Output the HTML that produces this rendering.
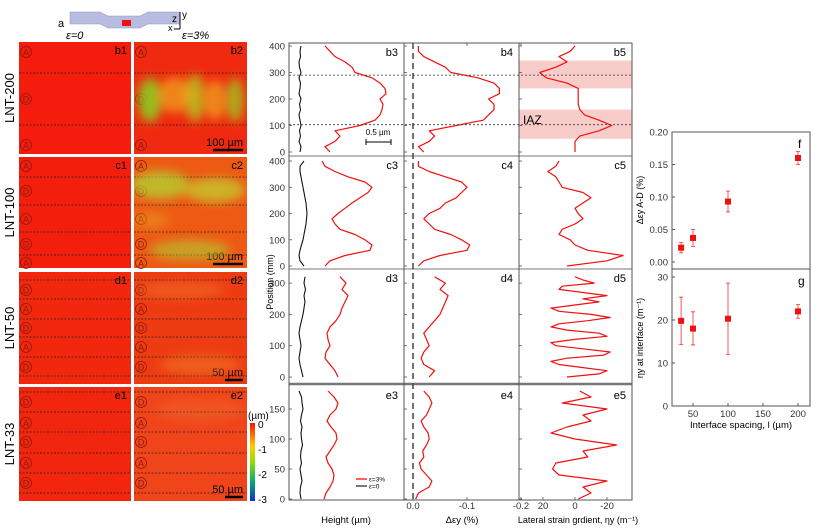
<!DOCTYPE html>
<html><head><meta charset="utf-8"><style>
body{margin:0;background:#fff}
svg{display:block;font-family:"Liberation Sans",sans-serif}
</style></head><body>
<svg id="fig" width="827" height="530" viewBox="0 0 827 530" xmlns="http://www.w3.org/2000/svg">
<defs>
<filter id="blur" x="-50%" y="-50%" width="200%" height="200%"><feGaussianBlur stdDeviation="5"/></filter>
<filter id="blur2"><feGaussianBlur stdDeviation="1.2"/></filter>
<linearGradient id="cbar" x1="0" y1="0" x2="0" y2="1">
<stop offset="0" stop-color="#ff1000"/><stop offset="0.3" stop-color="#ffcc00"/><stop offset="0.5" stop-color="#8ee000"/><stop offset="0.75" stop-color="#00b070"/><stop offset="1" stop-color="#1030d0"/></linearGradient>
<clipPath id="cb2"><rect x="134" y="42" width="113" height="112"/></clipPath>
<clipPath id="cc2"><rect x="134" y="157" width="113" height="111"/></clipPath>
<clipPath id="cd2"><rect x="134" y="272" width="113" height="112"/></clipPath>
<clipPath id="ce2"><rect x="134" y="387" width="113" height="114"/></clipPath>
<clipPath id="cmid"><rect x="289" y="43" width="343" height="457"/></clipPath>
</defs>
<g id="header">
<text x="58" y="27" font-size="11">a</text>
<path d="M70 12 H100 L108 16 H140 L148 12 H180 V24 H148 L140 28 H108 L100 24 H70 Z" fill="#b8bce0" stroke="#9096c0" stroke-width="0.5"/>
<rect x="122" y="20" width="9" height="6" fill="#f01010"/>
<text x="172" y="22" font-size="10">z</text>
<text x="182" y="18" font-size="10">y</text>
<text x="168" y="31" font-size="9">x</text>
<path d="M180 29 V12 M180 29 H174" stroke="#000" stroke-width="1"/>
<text x="66" y="39" font-size="11" font-style="italic">ε=0</text>
<text x="182" y="39" font-size="11" font-style="italic">ε=3%</text>
</g>
<g id="images"></g>
<g id="mid"></g>
<g id="fg"></g>
</svg>
<script>
// ---------- profile data (position in mm) ----------
const posB = [0,20,40,60,80,100,120,140,160,180,200,220,240,260,280,300,320,340,360,380,400];
const b3Red = [0.82,0.72,0.92,1.02,0.92,1.42,1.72,1.82,1.86,1.88,1.82,1.94,1.92,1.82,1.66,1.32,1.26,1.12,0.92,0.82,0.72];
const b3Black = [0.22,0.24,0.2,0.23,0.21,0.24,0.22,0.2,0.23,0.21,0.24,0.2,0.22,0.23,0.2,0.24,0.21,0.2,0.23,0.22,0.24];
const b4Strain = [-0.02,-0.01,-0.03,-0.04,-0.03,-0.08,-0.13,-0.14,-0.15,-0.15,-0.14,-0.16,-0.16,-0.15,-0.12,-0.07,-0.06,-0.04,-0.02,-0.01,-0.01];
const b5Grad = [0,0,0,-3,-15,-23,-15,-6,-3,-2,-2,-2,-2,5,18,22,12,5,10,3,0];
const posC = [0,20,40,60,80,100,120,140,160,180,200,220,240,260,280,300,320,340,360,380,400];
const c3Red = [0.72,0.82,1.12,1.62,1.66,1.52,1.32,1.02,0.92,0.86,0.98,1.12,1.26,1.42,1.58,1.66,1.52,1.18,0.92,0.72,0.66];
const c3Black = [0.3,0.22,0.2,0.22,0.25,0.28,0.3,0.32,0.34,0.35,0.36,0.35,0.34,0.32,0.3,0.28,0.26,0.24,0.22,0.22,0.3];
const c4Strain = [-0.01,-0.02,-0.05,-0.1,-0.105,-0.09,-0.07,-0.04,-0.03,-0.02,-0.03,-0.05,-0.06,-0.08,-0.09,-0.1,-0.09,-0.06,-0.03,-0.01,-0.01];
const c5Grad = [5,-20,-30,-8,0,3,10,8,0,-5,-2,0,-5,-10,-5,8,10,12,17,12,10];
const posD = [0,20,40,60,80,100,120,140,160,180,200,220,240,260,280,300,320];
const d3Red = [0.98,0.92,0.82,0.72,0.74,0.82,0.78,0.76,0.82,0.94,1.02,1.06,1.12,1.18,1.06,1.14,1.02];
const d3Black = [0.28,0.25,0.22,0.2,0.22,0.24,0.22,0.2,0.22,0.25,0.28,0.3,0.32,0.3,0.33,0.3,0.32];
const d4Strain = [-0.03,-0.04,-0.02,-0.015,-0.02,-0.03,-0.025,-0.02,-0.03,-0.04,-0.05,-0.055,-0.06,-0.065,-0.05,-0.06,-0.04];
const posD5 = [0,10,20,30,40,50,60,70,80,90,100,110,120,130,140,150,160,170,180,190,200,210,220,230,240,250,260,270,280,290,300,310,320];
const d5Grad = [5,-15,-20,-5,10,15,5,-18,-22,-5,12,15,0,-20,-15,5,15,10,-8,-22,-10,10,15,0,-15,-5,-20,-5,10,8,-12,-5,0];
const posE = [0,10,20,30,40,50,60,70,80,90,100,110,120,130,140,150,160,170,180];
const e3Red = [0.7,0.74,0.82,0.88,0.9,0.86,0.78,0.74,0.82,0.9,0.96,0.94,0.84,0.76,0.82,0.94,0.98,0.9,0.78];
const e3Black = [0.24,0.22,0.23,0.26,0.24,0.22,0.25,0.23,0.24,0.27,0.25,0.24,0.26,0.23,0.25,0.28,0.26,0.25,0.2];
const e4Strain = [-0.005,-0.01,-0.03,-0.035,-0.025,-0.015,-0.012,-0.02,-0.018,-0.025,-0.03,-0.028,-0.02,-0.015,-0.025,-0.03,-0.035,-0.03,-0.02];
const e5Grad = [-2,-10,-5,-20,10,14,12,-8,-5,-26,0,15,5,-10,-5,-20,8,-10,-3];
const rowTicksB = [0,100,200,300,400];
const rowTicksD = [0,100,200,300];
const rowTicksE = [0,50,100,150];
const strainTicks = [0.0,-0.1,-0.2];
const strainTickLabels = ["0.0","-0.1","-0.2"];
const gradTicks = [20,0,-20];
// ---------- f / g data ----------
const spacing = [33,50,100,200];
const deltaStrain = [0.022,0.037,0.093,0.16];
const deltaStrainErr = [0.008,0.013,0.016,0.010];
const gradIface = [19.8,18,20.3,22];
const gradErrLo = [5.5,3.8,8.3,1.6];
const gradErrHi = [5.5,3.9,8.3,1.6];
const fTicks = [0,0.05,0.10,0.15,0.20];
const fTickLabels = ["0.00","0.05","0.10","0.15","0.20"];
const gTicks = [0,10,20,30];
const xTicks = [50,100,150,200];

const NS = "http://www.w3.org/2000/svg";
function mk(tag, attrs, parent){const e=document.createElementNS(NS,tag);for(const k in attrs)e.setAttribute(k,attrs[k]);parent.appendChild(e);return e;}
function txt(s, attrs, parent){const e=mk("text",attrs,parent);e.textContent=s;return e;}

// ---------- image panels ----------
const img = document.getElementById("images");
const rows = [
 {k:"b",y:42,h:112,label:"LNT-200",dash:[73,125],letters:[["A",52],["D",99],["A",145]],bar:"100 µm",base1:"#f41c0c",base2:"#f02a10"},
 {k:"c",y:157,h:111,label:"LNT-100",dash:[177,205,232,255],letters:[["A",166],["D",191],["A",219],["D",244],["A",263]],bar:"100 µm",base1:"#f41e0c",base2:"#ee5a14"},
 {k:"d",y:272,h:112,label:"LNT-50",dash:[280,299,319,337,357,376],letters:[["D",290],["A",309],["D",328],["A",347],["D",367]],bar:"50 µm",base1:"#f2280e",base2:"#ee3c12"},
 {k:"e",y:387,h:114,label:"LNT-33",dash:[392,412,432,453,473,493],letters:[["D",402],["A",423],["D",442],["A",463],["D",483]],bar:"50 µm",base1:"#f2260e",base2:"#f0441a"}
];
rows.forEach(r=>{
  const g = mk("g",{},img);
  
  
  const t = txt(r.label,{x:0,y:0,"font-size":13,"text-anchor":"middle",transform:`translate(14,${r.y+r.h/2}) rotate(-90)`},g);
  
  
  [[19,112,r.base1,"1"],[134,113,r.base2,"2"]].forEach(([x,w,c,n])=>{
    const rect = mk("rect",{x:x,y:r.y,width:w,height:r.h,fill:c},g);
    
    
    const lb = txt(r.k+n,{x:x+w-4,y:r.y+12,"font-size":11,"text-anchor":"end"},g);
    
    
    r.letters.forEach(([L,yy])=>{
      const c1 = mk("circle",{cx:x+7,cy:yy,r:5.5,fill:"none",stroke:"#8a1a10","stroke-width":0.8},g);
      
      
      const lt = txt(L,{x:x+7,y:yy+3.5,"font-size":9,"text-anchor":"middle",fill:"#8a1a10"},g);
      
      
    });
    r.dash.forEach(yy=>{
      const l = mk("line",{x1:x,x2:x+w,y1:yy,y2:yy,stroke:"#222","stroke-width":0.7,"stroke-dasharray":"2,1.5"},g);
      
      
    });
  });
  const bx1=247-4, bx0 = r.k==="b"||r.k==="c" ? 213 : 225;
  const sb = mk("line",{x1:bx0,x2:bx1,y1:r.y+r.h-4,y2:r.y+r.h-4,stroke:"#000","stroke-width":2.5},g);
  
  
  const st = txt(r.bar,{x:bx1,y:r.y+r.h-8,"font-size":11,"text-anchor":"end"},g);
  
  
});
// textures on strained maps
const blobs = [
 ["b",150,100,12,22,"#80e020",0.8],["b",195,98,10,24,"#a8e020",0.7],["b",235,100,9,22,"#90e020",0.7],["b",175,95,18,18,"#f0c020",0.6],["b",215,100,12,20,"#f0c020",0.6],
 ["c",160,185,30,14,"#b0d830",0.75],["c",215,190,30,12,"#c0d830",0.7],["c",190,250,40,10,"#b0d030",0.6],["c",150,220,20,8,"#e8a020",0.5],
 ["d",180,290,45,8,"#f08830",0.4],["d",200,365,40,10,"#f09030",0.4],
 ["e",200,410,45,12,"#f07830",0.3]
];
blobs.forEach(([k,cx,cy,rx,ry,c,o])=>{
  const e = mk("ellipse",{cx:cx,cy:cy,rx:rx,ry:ry,fill:c,opacity:o,filter:"url(#blur)","clip-path":`url(#c${k}2)`},img);
  
  
});
// colorbar
const cb = mk("rect",{x:250,y:423,width:5,height:78,fill:"url(#cbar)"},img);


const cbt = txt("(µm)",{x:248,y:419,"font-size":10},img);


["0","-1","-2","-3"].forEach((s,i)=>{
  const t = txt(s,{x:258,y:428+i*25,"font-size":10},img);
  
  
});

// ---------- middle profile plots ----------
const mid = document.getElementById("mid");
const C3X=289,C4X=404,C5X=519,RX=632;
const xHeight = v => C3X + v*50;
const xStrain = v => 413 - v*540;
const xGrad = v => 575 - v*1.6;
const prow = {
  b:{top:43,bot:156,y:v=>152-v*0.265,ticks:rowTicksB},
  c:{top:156,bot:269,y:v=>266-v*0.2625,ticks:rowTicksB},
  d:{top:269,bot:384,y:v=>377-v*0.313,ticks:rowTicksD},
  e:{top:386,bot:500,y:v=>499-v*0.6,ticks:rowTicksE}
};
// shaded IAZ bands in b5
[[50,160],[240,345]].forEach(([a,b])=>{
  const r = mk("rect",{x:C5X,y:prow.b.y(b),width:RX-C5X,height:prow.b.y(a)-prow.b.y(b),fill:"#f7c4c0",opacity:0.85},mid);
  
  
});
function line(pos, vals, xf, yf, color, name, w){
  const d = pos.map((p,i)=>(i?"L":"M")+xf(vals[i]).toFixed(1)+" "+yf(p).toFixed(1)).join(" ");
  const p = mk("path",{d:d,fill:"none",stroke:color,"stroke-width":w||1.2,"stroke-linejoin":"round","clip-path":"url(#cmid)"},mid);
  
  
}
const series = [
 ["b",posB,b3Black,b3Red,b4Strain,posB,b5Grad],
 ["c",posC,c3Black,c3Red,c4Strain,posC,c5Grad],
 ["d",posD,d3Black,d3Red,d4Strain,posD5,d5Grad],
 ["e",posE,e3Black,e3Red,e4Strain,posE,e5Grad]
];
series.forEach(([k,pos,blk,red,str,pos5,grd])=>{
  const R = prow[k];
  line(pos,blk,xHeight,R.y,"#111",k+"3-height-initial",1.1);
  line(pos,red,xHeight,R.y,"#f01010",k+"3-height-strained");
  line(pos,str,xStrain,R.y,"#f01010",k+"4-strain-profile");
  line(pos5,grd,xGrad,R.y,"#f01010",k+"5-gradient-profile");
  R.ticks.forEach(t=>{
    const yy=R.y(t);
    const tl = txt(String(t),{x:285,y:yy+3.5,"font-size":9.5,"text-anchor":"end",fill:"#333"},mid);
    
    
    [C3X,C4X,C5X].forEach(x0=>{
      const tk = mk("line",{x1:x0,x2:x0+3,y1:yy,y2:yy,stroke:"#555","stroke-width":0.8},mid);
      
      
    });
  });
  [["3",C3X,C4X],["4",C4X,C5X],["5",C5X,RX]].forEach(([n,x0,x1])=>{
    const lb = txt(k+n,{x:x1-6,y:R.top+13,"font-size":11,"text-anchor":"end"},mid);
    
    
  });
  const hl = mk("line",{x1:C3X,x2:RX,y1:R.bot,y2:R.bot,stroke:"#777","stroke-width":k==="d"?2.5:1},mid);
  
  
});
// frames
[[C3X,C4X],[C4X,C5X],[C5X,RX]].forEach(([x0,x1],i)=>{
  const f = mk("rect",{x:x0,y:43,width:x1-x0,height:457,fill:"none",stroke:"#555","stroke-width":1},mid);
  
  
});
// dashed zero strain line
const zl = mk("line",{x1:xStrain(0),x2:xStrain(0),y1:43,y2:500,stroke:"#444","stroke-width":1.5,"stroke-dasharray":"6,4"},mid);


// interface dashed lines in b row
[103,290].forEach(p=>{
  const l = mk("line",{x1:C3X,x2:RX,y1:prow.b.y(p),y2:prow.b.y(p),stroke:"#333","stroke-width":0.8,"stroke-dasharray":"2,2"},mid);
  
  
});
const iaz = txt("IAZ",{x:523,y:124,"font-size":12},mid);


// scale bar in b3
const sbm = mk("path",{d:"M366 139 V145 M366 142 H391 M391 139 V145",stroke:"#000","stroke-width":1,fill:"none"},mid);


const sbt = txt("0.5 µm",{x:378,y:135,"font-size":8,"text-anchor":"middle"},mid);


// legend e3
[["#f01010","ε=3%",479],["#333","ε=0",486]].forEach(([c,s,yy],i)=>{
  const l = mk("line",{x1:356,x2:367,y1:yy,y2:yy,stroke:c,"stroke-width":1.3},mid);
  
  
  const t = txt(s,{x:369,y:yy+2.5,"font-size":6.5},mid);
  
  
});
// bottom x ticks
strainTicks.forEach((v,i)=>{
  const t = txt(strainTickLabels[i],{x:xStrain(v),y:509,"font-size":9.5,"text-anchor":"middle",fill:"#333"},mid);
  
  
  [43,500].forEach(yb=>{
    const tk = mk("line",{x1:xStrain(v),x2:xStrain(v),y1:yb,y2:yb===43?46:497,stroke:"#555","stroke-width":0.8},mid);
    
    
  });
});
gradTicks.forEach(v=>{
  const t = txt(String(v),{x:xGrad(v),y:509,"font-size":9.5,"text-anchor":"middle",fill:"#333"},mid);
  
  
  const tk = mk("line",{x1:xGrad(v),x2:xGrad(v),y1:500,y2:497,stroke:"#555","stroke-width":0.8},mid);
  
  
});
const pl = txt("Position (mm)",{x:0,y:0,"font-size":9,"text-anchor":"middle",transform:"translate(273,282) rotate(-90)"},mid);


const hx = txt("Height (µm)",{x:346,y:523,"font-size":9.5,"text-anchor":"middle"},mid);


const sx = txt("Δεy (%)",{x:462,y:523,"font-size":9.5,"text-anchor":"middle"},mid);


const gx = txt("Lateral strain grdient, ηy (m⁻¹)",{x:578,y:523,"font-size":9,"text-anchor":"middle"},mid);



// ---------- f / g ----------
const fg = document.getElementById("fg");
const X0=672,X1=810,FT=132,FB=269,GB=406;
const xs = v => 658 + v*0.7;
const yf = v => 262 - v/0.2*130;
const yg = v => 406 - v/30*129;
[[FT,FB,"f"],[FB,GB,"g"]].forEach(([t,b,n])=>{
  const r = mk("rect",{x:X0,y:t,width:X1-X0,height:b-t,fill:"none",stroke:"#555","stroke-width":1},fg);
  
  
  const l = txt(n,{x:X1-12,y:t+16,"font-size":12},fg);
  
  
});
fTicks.forEach((v,i)=>{
  const t = txt(fTickLabels[i],{x:X0-4,y:yf(v)+3.5,"font-size":9.5,"text-anchor":"end",fill:"#333"},fg);
  
  
  const tk = mk("line",{x1:X0,x2:X0+3,y1:yf(v),y2:yf(v),stroke:"#555"},fg);
  
  
});
gTicks.forEach(v=>{
  const t = txt(String(v),{x:X0-4,y:yg(v)+3.5,"font-size":9.5,"text-anchor":"end",fill:"#333"},fg);
  
  
  const tk = mk("line",{x1:X0,x2:X0+3,y1:yg(v),y2:yg(v),stroke:"#555"},fg);
  
  
});
xTicks.forEach(v=>{
  const t = txt(String(v),{x:xs(v),y:417,"font-size":9.5,"text-anchor":"middle",fill:"#333"},fg);
  
  
  const tk = mk("line",{x1:xs(v),x2:xs(v),y1:GB,y2:GB-3,stroke:"#555"},fg);
  
  
});
spacing.forEach((s,i)=>{
  const x=xs(s);
  const e1 = mk("path",{d:`M${x} ${yf(deltaStrain[i]-deltaStrainErr[i])} V${yf(deltaStrain[i]+deltaStrainErr[i])} M${x-2} ${yf(deltaStrain[i]-deltaStrainErr[i])} h4 M${x-2} ${yf(deltaStrain[i]+deltaStrainErr[i])} h4`,stroke:"#f03030","stroke-width":0.8,fill:"none"},fg);
  
  
  const p1 = mk("rect",{x:x-3,y:yf(deltaStrain[i])-3,width:6,height:6,fill:"#f01010"},fg);
  
  
  const lo=yg(gradIface[i]-gradErrLo[i]), hi=yg(gradIface[i]+gradErrHi[i]);
  const e2 = mk("path",{d:`M${x} ${lo} V${hi} M${x-2} ${lo} h4 M${x-2} ${hi} h4`,stroke:"#f03030","stroke-width":0.8,fill:"none"},fg);
  
  
  const p2 = mk("rect",{x:x-3,y:yg(gradIface[i])-3,width:6,height:6,fill:"#f01010"},fg);
  
  
});
const xt = txt("Interface spacing, l (µm)",{x:741,y:428,"font-size":9.5,"text-anchor":"middle"},fg);


const fy = txt("Δεy A-D (%)",{x:0,y:0,"font-size":9,"text-anchor":"middle",transform:"translate(643,200) rotate(-90)"},fg);


const gy = txt("ηy at interface (m⁻¹)",{x:0,y:0,"font-size":9,"text-anchor":"middle",transform:"translate(643,338) rotate(-90)"},fg);


</script>
</body></html>
